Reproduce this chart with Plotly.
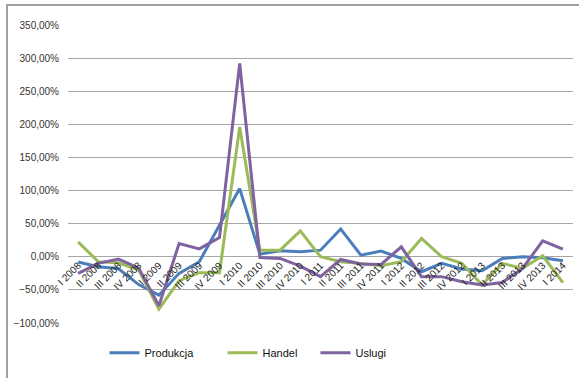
import plotly.graph_objects as go

categories = ["I 2008", "II 2008", "III 2008", "IV 2008",
              "I 2009", "II 2009", "III 2009", "IV 2009",
              "I 2010", "II 2010", "III 2010", "IV 2010",
              "I 2011", "II 2011", "III 2011", "IV 2011",
              "I 2012", "II 2012", "III 2012", "IV 2012",
              "I 2013", "II 2013", "III 2013", "IV 2013",
              "I 2014"]

produkcja = [-8, -15, -18, -42, -58, -25, -7.5, 48, 103, 4, 9, 7.5,
             10, 42, 2.5, 8.6, -2.5, -22.6, -10, -18.5, -21, -2.5, 0, -1.5, -6]
handel = [22.6, -7.5, -9, -20, -79, -36, -24, -24, 196, 10, 10, 39,
          0, -7.5, -10, -13.5, -7.5, 27.6, 0, -10, -42.6, -10, -17.5, 1.5, -39]
uslugi = [-25, -10, -3.5, -17, -74, 20, 12, 29, 292, -1, -2.5, -14,
          -30, -4, -11, -11.5, 15, -30, -30, -37.6, -42.6, -39, -17.5, 24, 11.6]

series_names = ["Produkcja", "Handel", "Uslugi"]
series_colors = ["#4A7EBB", "#9BBB59", "#7F62A0"]
legend_ids = ["legend", "legend2", "legend3"]
legend_x = [0.0723, 0.306, 0.490]

y_min, y_max, y_step = -100, 350, 50

font_family = "Liberation Sans Narrow, Arial Narrow, Liberation Sans, Arial, sans-serif"

fig = go.Figure()
for name, vals, col, lg in zip(series_names, [produkcja, handel, uslugi], series_colors, legend_ids):
    fig.add_trace(go.Scatter(x=categories, y=vals, mode="lines", name=name,
                             legend=lg, line=dict(color=col, width=3)))

legend_style = dict(orientation="h", xanchor="left", y=-0.1, yanchor="middle",
                    font=dict(family=font_family, size=11, color="#111111"),
                    itemwidth=30, bgcolor="rgba(0,0,0,0)")

fig.update_layout(
    width=579, height=378,
    margin=dict(l=68, r=6, t=25, b=55),
    paper_bgcolor="white", plot_bgcolor="white",
    separators=", ",
    font=dict(family=font_family, size=10, color="#333333"),
    showlegend=True,
    legend=dict(x=legend_x[0], **legend_style),
    legend2=dict(x=legend_x[1], **legend_style),
    legend3=dict(x=legend_x[2], **legend_style),
    xaxis=dict(type="category", anchor="free", automargin=False,
               range=[-0.5, len(categories) - 0.5],
               position=(0 - y_min) / (y_max - y_min),
               showgrid=False, showline=False, zeroline=False,
               tickangle=-45, ticks="", tickfont=dict(size=10, color="#222222")),
    yaxis=dict(range=[y_min, y_max], dtick=y_step, tick0=0, automargin=False,
               tickformat=".2f", ticksuffix="%",
               showgrid=True, gridcolor="#A6A6A6", gridwidth=1,
               zeroline=False, showline=False, ticks="",
               ticklabelstandoff=8,
               tickfont=dict(size=10, color="#333333")),
    shapes=[dict(type="rect", xref="paper", yref="paper",
                 x0=(7 - 68) / 505, x1=1.05, y0=-0.3, y1=(323 - 5) / 298,
                 line=dict(color="#A0A0A0", width=2), fillcolor="rgba(0,0,0,0)",
                 layer="below")],
)

fig.write_html("out.html", config={"displayModeBar": False},
               post_script="document.body.style.margin='0';")
